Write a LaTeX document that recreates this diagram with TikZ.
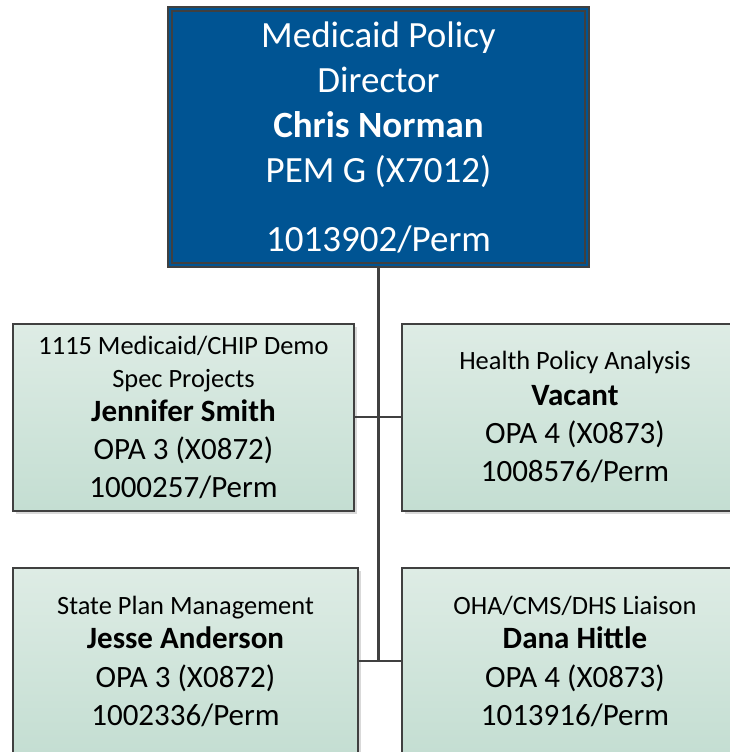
\documentclass[tikz,border=0pt]{standalone}
\usepackage{fontspec}
\setmainfont{Carlito}
\usetikzlibrary{positioning,shadows}

\definecolor{chefblau}{RGB}{0,84,147}
\definecolor{rahmen}{RGB}{64,64,64}
\definecolor{gruenhell}{RGB}{222,236,229}
\definecolor{gruendunkel}{RGB}{196,222,210}
\newcommand{\pu}{0.75pt}
\newcommand{\gross}{\fontsize{23.25}{24.75}\selectfont}

\tikzset{
    chef/.style = {draw = rahmen, line width = 1.5pt, double = chefblau, double distance = 1.8pt,
        fill = chefblau, text = white, align = center, inner sep = 0pt,
        minimum width = 417*\pu, minimum height = 256*\pu, font = \fontsize{27.75}{33.75}\selectfont},
    stelle/.style = {draw = rahmen, line width = 1.5pt, top color = gruenhell, bottom color = gruendunkel,
        text = black, align = center, inner sep = 0pt, minimum height = 187*\pu,
        font = \fontsize{19.8}{24.75}\selectfont,
        drop shadow = {shadow xshift = 2.5pt, shadow yshift = -2.5pt, fill = black, opacity = 0.15}},
    linie/.style = {draw = rahmen, line width = 1.6pt}
}

\begin{document}
\begin{tikzpicture}[x = 0.75pt, y = -0.75pt]
        % Umgebung
            \useasboundingbox (0, 0) rectangle (730, 752);
            \clip (0, 0) rectangle (730, 752);

        % Leitung
            \node[chef] (direktor) at (378.5, 137) {Medicaid Policy\\Director\\\textbf{Chris Norman}\\PEM G (X7012)\\[18pt]1013902/Perm};

        % Stellen oben
            \node[stelle, minimum width = 341*\pu] (demo) at (183.5, 417) {1115 Medicaid/CHIP Demo\\Spec Projects\\[0.75pt]{\gross\textbf{Jennifer Smith}}\\[3.75pt]{\gross OPA 3 (X0872)}\\[3.75pt]{\gross 1000257/Perm}};
            \node[stelle, minimum width = 346*\pu] (analyse) at (575, 417) {Health Policy Analysis\\[2.25pt]{\gross\textbf{Vacant}}\\[3.75pt]{\gross OPA 4 (X0873)}\\[3.75pt]{\gross 1008576/Perm}};

        % Stellen unten
            \node[stelle, minimum width = 345*\pu] (plan) at (185.5, 661) {State Plan Management\\[0.75pt]{\gross\textbf{Jesse Anderson}}\\[4.5pt]{\gross OPA 3 (X0872)}\\[3.75pt]{\gross 1002336/Perm}};
            \node[stelle, minimum width = 346*\pu] (liaison) at (575, 661) {OHA/CMS/DHS Liaison\\[0.75pt]{\gross\textbf{Dana Hittle}}\\[4.5pt]{\gross OPA 4 (X0873)}\\[3.75pt]{\gross 1013916/Perm}};

        % Linien
            \draw[linie] (direktor.south) -- (direktor.south |- plan.east);
            \draw[linie] (demo.east) -- (analyse.west);
            \draw[linie] (plan.east) -- (liaison.west);
\end{tikzpicture}
\end{document}
